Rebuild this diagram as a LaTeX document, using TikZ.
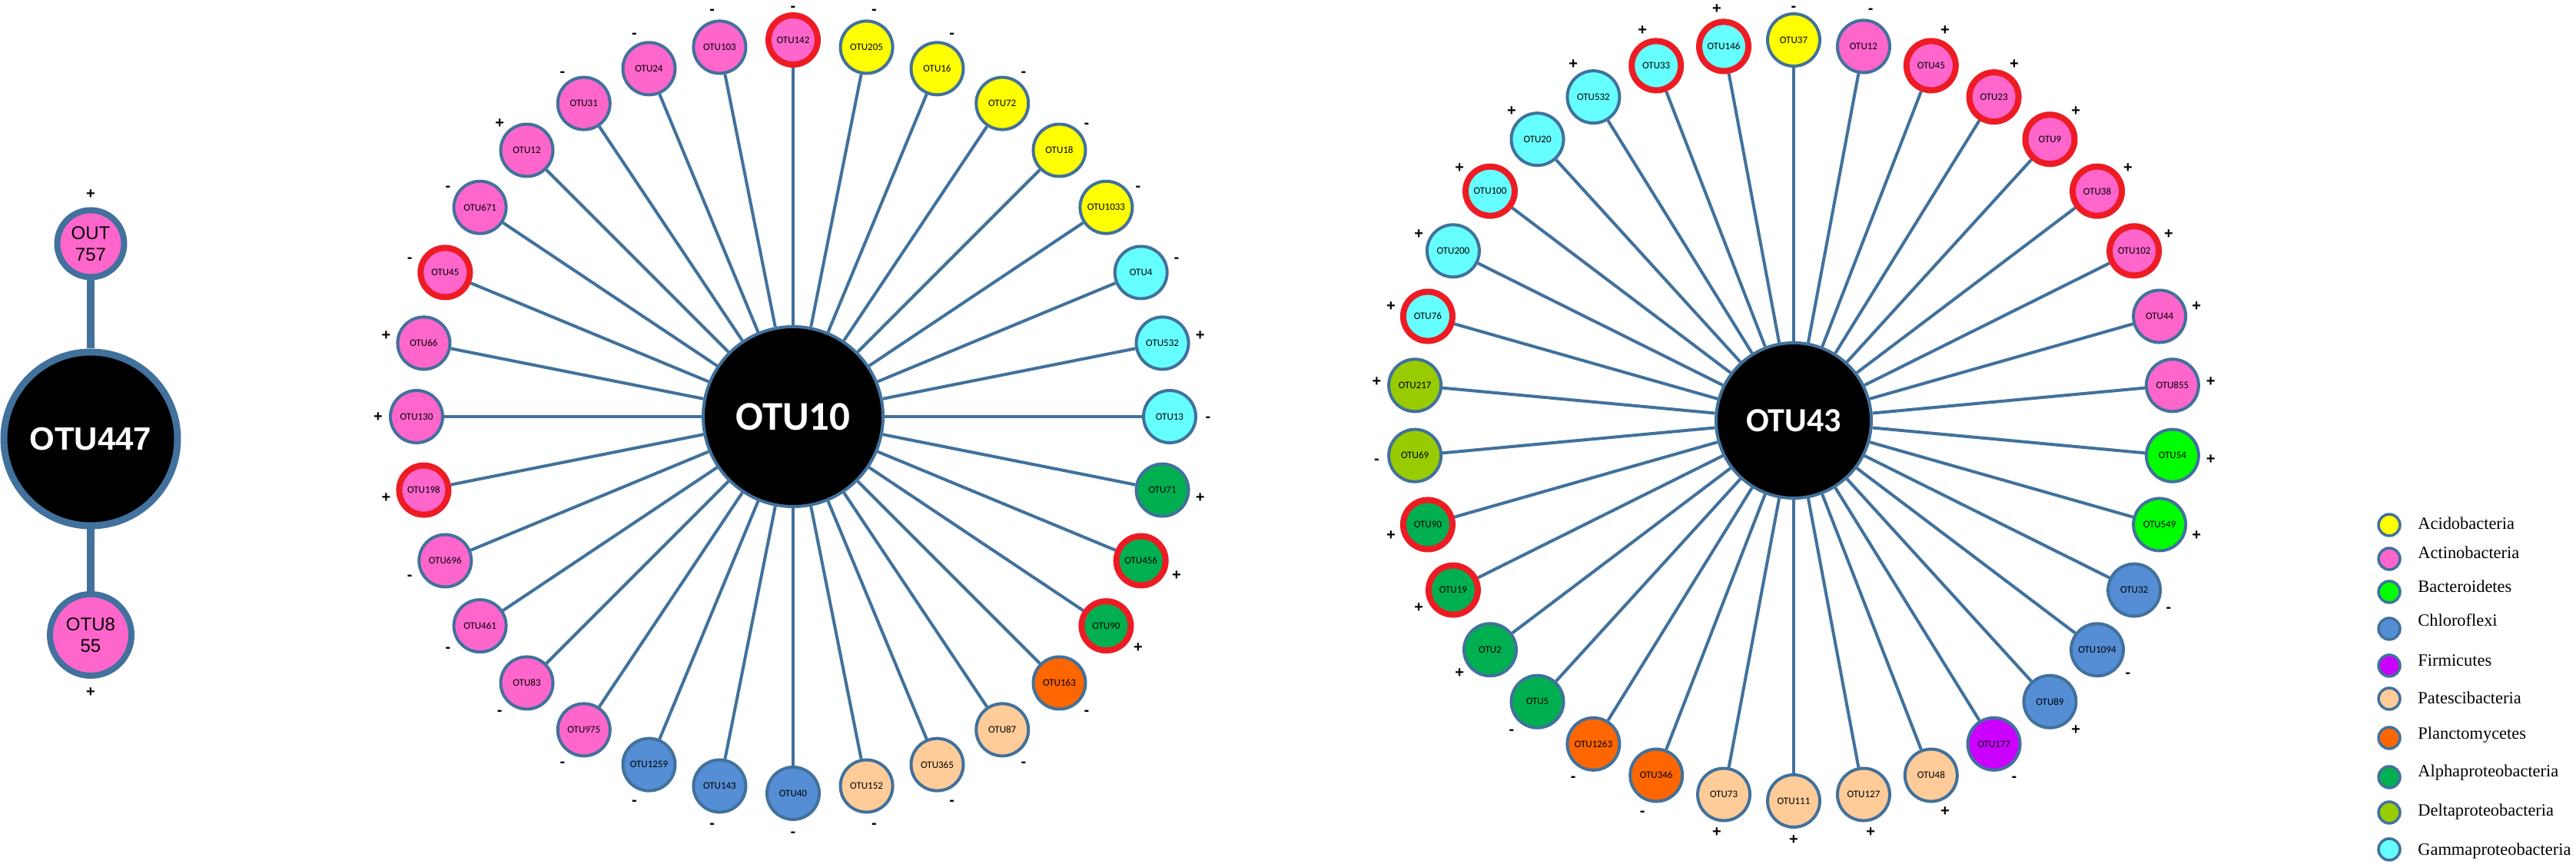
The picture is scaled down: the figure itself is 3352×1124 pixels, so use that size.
\documentclass[tikz,border=0pt]{standalone}
\usepackage{fontspec}
\setmainfont{Liberation Serif}
\newfontfamily\calibri{Carlito}
\newfontfamily\arial{Liberation Sans}
\usetikzlibrary{backgrounds}

\definecolor{edgeblue}{HTML}{41719C}
\definecolor{ringred}{HTML}{ED1C24}
\definecolor{cAcido}{HTML}{FFFF00}
\definecolor{cActino}{HTML}{FF66CC}
\definecolor{cBactero}{HTML}{00FF00}
\definecolor{cChloro}{HTML}{558ED5}
\definecolor{cFirmi}{HTML}{CC00FF}
\definecolor{cPatesci}{HTML}{FFCC99}
\definecolor{cPlancto}{HTML}{FF6600}
\definecolor{cAlpha}{HTML}{00B050}
\definecolor{cDelta}{HTML}{99CC00}
\definecolor{cGamma}{HTML}{66FFFF}

\begin{document}
\begin{tikzpicture}[x=0.5pt,y=0.5pt,
    otu/.style={circle,draw=edgeblue,line width=2pt,minimum size=34pt,inner sep=0pt,
      font=\calibri\fontsize{6.5}{7}\selectfont},
    std/.style={},
    hit/.style={draw=ringred,line width=4pt,minimum size=32pt}, % red ring
    hub/.style={circle,fill=black,draw=edgeblue,line width=2pt,inner sep=0pt,text=white},
    sign/.style={inner sep=0pt,text height=0.62em,text depth=0pt,
      font=\arial\bfseries\fontsize{10}{10}\selectfont},
    link/.style={draw=edgeblue,line width=2pt},
    key/.style={circle,draw=edgeblue,line width=1.75pt,minimum size=14pt,inner sep=0pt}]
  \useasboundingbox (0,0) rectangle (3352,1124);

  % OTU447 and its two partners
  \node[hub,line width=4.5pt,minimum size=113pt,
    font=\arial\bfseries\fontsize{21}{21}\selectfont] (h447) at (118,553) {OTU447};
  \node[otu,fill=cActino,line width=4pt,minimum size=43.5pt,align=center,
    font=\arial\fontsize{12}{14}\selectfont] (o757) at (118,807) {OUT\\757};
  \node[otu,fill=cActino,line width=4pt,minimum size=53pt,align=center,
    font=\arial\fontsize{12}{14}\selectfont] (o855) at (118,298) {OTU8\\55};
  \node[sign] (p757) at (118,872) {+};
  \node[sign] (p855) at (118,224) {+};
  \begin{scope}[on background layer]
    \draw[link,line width=5pt] (h447) -- (o757);
    \draw[link,line width=5pt] (h447) -- (o855);
  \end{scope}

  % OTU10 wheel, 32 partners clockwise from the top
  \node[hub,minimum size=117pt,font=\calibri\bfseries\fontsize{26.5}{26.5}\selectfont]
    (h10) at (1032,582) {OTU10};
  \begin{scope}[shift={(1032,582)}]
    \foreach \lab/\col/\ring/\sgn [count=\i from 0] in {
        OTU142/cActino/hit/-, OTU205/cAcido/std/-, OTU16/cAcido/std/-,
        OTU72/cAcido/std/-, OTU18/cAcido/std/-, OTU1033/cAcido/std/-,
        OTU4/cGamma/std/-, OTU532/cGamma/std/+, OTU13/cGamma/std/-,
        OTU71/cAlpha/std/+, OTU456/cAlpha/hit/+, OTU90/cAlpha/hit/+,
        OTU163/cPlancto/std/-, OTU87/cPatesci/std/-, OTU365/cPatesci/std/-,
        OTU152/cPatesci/std/-, OTU40/cChloro/std/-, OTU143/cChloro/std/-,
        OTU1259/cChloro/std/-, OTU975/cActino/std/-, OTU83/cActino/std/-,
        OTU461/cActino/std/-, OTU696/cActino/std/-, OTU198/cActino/hit/+,
        OTU130/cActino/std/+, OTU66/cActino/std/+, OTU45/cActino/hit/-,
        OTU671/cActino/std/-, OTU12/cActino/std/+, OTU31/cActino/std/-,
        OTU24/cActino/std/-, OTU103/cActino/std/-} {
      \pgfmathsetmacro\ang{90-11.25*\i}
      \pgfmathsetmacro\sd{\i==0 ? 534 : 540}
      \node[otu,fill=\col,\ring] (a\i) at (\ang:490) {\lab};
      \node[sign] (sa\i) at (\ang:\sd) {\sgn};
    }
  \end{scope}
  \begin{scope}[on background layer]
    \foreach \i in {0,...,31} \draw[link] (h10) -- (a\i);
  \end{scope}

  % OTU43 wheel, 34 partners clockwise from the top
  \node[hub,minimum size=101pt,font=\calibri\bfseries\fontsize{22}{22}\selectfont]
    (h43) at (2334,577) {OTU43};
  \begin{scope}[shift={(2334,577)}]
    \foreach \lab/\col/\ring/\sgn [count=\i from 0] in {
        OTU37/cAcido/std/-, OTU12/cActino/std/-, OTU45/cActino/hit/+,
        OTU23/cActino/hit/+, OTU9/cActino/hit/+, OTU38/cActino/hit/+,
        OTU102/cActino/hit/+, OTU44/cActino/std/+, OTU855/cActino/std/+,
        OTU54/cBactero/std/+, OTU549/cBactero/std/+, OTU32/cChloro/std/-,
        OTU1094/cChloro/std/-, OTU89/cChloro/std/+, OTU177/cFirmi/std/-,
        OTU48/cPatesci/std/+, OTU127/cPatesci/std/+, OTU111/cPatesci/std/+,
        OTU73/cPatesci/std/+, OTU346/cPlancto/std/-, OTU1263/cPlancto/std/-,
        OTU5/cAlpha/std/-, OTU2/cAlpha/std/+, OTU19/cAlpha/hit/+,
        OTU90/cAlpha/hit/+, OTU69/cDelta/std/-, OTU217/cDelta/std/+,
        OTU76/cGamma/hit/+, OTU200/cGamma/std/+, OTU100/cGamma/hit/+,
        OTU20/cGamma/std/+, OTU532/cGamma/std/+, OTU33/cGamma/hit/+,
        OTU146/cGamma/hit/+} {
      \pgfmathsetmacro\ang{90-10.5882353*\i}
      \pgfmathsetmacro\sd{\i==0 ? 539 : 545}
      \node[otu,fill=\col,\ring] (b\i) at (\ang:495) {\lab};
      \node[sign] (sb\i) at (\ang:\sd) {\sgn};
    }
  \end{scope}
  \begin{scope}[on background layer]
    \foreach \i in {0,...,33} \draw[link] (h43) -- (b\i);
  \end{scope}

  % legend
  \foreach \yy/\ty/\col/\txt [count=\i] in {
      441/435/cAcido/Acidobacteria, 397/397/cActino/Actinobacteria,
      354/353/cBactero/Bacteroidetes, 306/309/cChloro/Chloroflexi,
      258/257/cFirmi/Firmicutes, 215/208/cPatesci/Patescibacteria,
      164/162/cPlancto/Planctomycetes, 113/113/cAlpha/Alphaproteobacteria,
      67/62/cDelta/Deltaproteobacteria, 19/11/cGamma/Gammaproteobacteria} {
    \node[key,fill=\col] (k\i) at (3109,\yy) {};
    \node[anchor=base west,inner sep=0pt,font=\fontsize{11.2}{13}\selectfont]
      (t\i) at (3146,\ty) {\txt};
  }
\end{tikzpicture}
\end{document}
